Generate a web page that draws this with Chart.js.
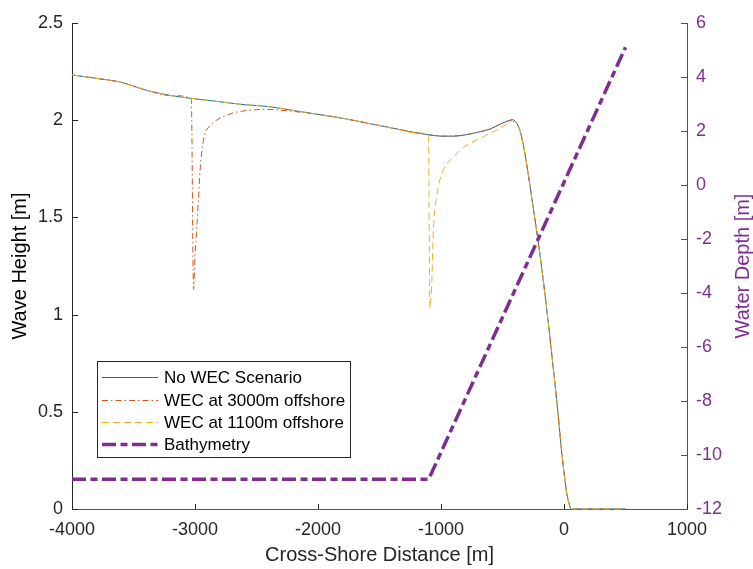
<!DOCTYPE html>
<html>
<head>
<meta charset="utf-8">
<script src="https://cdn.jsdelivr.net/npm/chart.js@4/dist/chart.umd.min.js"></script>
<style>
  html, body { margin: 0; padding: 0; background: #fff; }
  canvas { display: block; }
</style>
</head>
<body>
<canvas id="c" width="753" height="569"></canvas>
<script>
// ---- Data ----
const xTickLabels = [-4000, -3000, -2000, -1000, 0, 1000];
const heightTickLabels = [0, 0.5, 1, 1.5, 2, 2.5];
const depthTickLabels = [-12, -10, -8, -6, -4, -2, 0, 2, 4, 6];

const noWecX = [-4000,-3800,-3600,-3400,-3200,-3000,-2800,-2600,-2400,-2200,-2000,-1800,-1600,-1400,-1200,-1100,-1000,-900,-800,-700,-600,-500,-450,-420,-390,-360,-330,-300,-250,-200,-150,-100,-50,-20,0,20,40,60,500];
const noWecH = [2.233,2.215,2.195,2.155,2.127,2.11,2.095,2.08,2.07,2.05,2.03,2.01,1.985,1.96,1.935,1.925,1.918,1.918,1.925,1.938,1.955,1.985,1.998,2.003,1.99,1.95,1.87,1.76,1.55,1.33,1.08,0.80,0.50,0.30,0.19,0.09,0.03,0,0];

const wec3000X = [-4000,-3800,-3600,-3400,-3200,-3030,-3012,-3000,-2986,-2970,-2959,-2940,-2919,-2880,-2824,-2700,-2580,-2400,-2200,-2000,-1800,-1600,-1400,-1200,-1100,-1000,-900,-800,-700,-600,-500,-450,-420,-390,-360,-330,-300,-250,-200,-150,-100,-50,-20,0,20,40,60,500];
const wec3000H = [2.233,2.215,2.195,2.155,2.127,2.112,1.13,1.30,1.44,1.62,1.74,1.86,1.93,1.97,2.0,2.035,2.05,2.055,2.045,2.03,2.01,1.985,1.96,1.935,1.925,1.918,1.918,1.925,1.938,1.955,1.985,1.996,2.0,1.988,1.95,1.87,1.76,1.55,1.33,1.08,0.80,0.50,0.30,0.19,0.09,0.03,0,0];

const wec1100X = [-4000,-3800,-3600,-3400,-3200,-3000,-2800,-2600,-2400,-2200,-2000,-1800,-1600,-1400,-1200,-1102,-1090,-1076,-1063,-1035,-981,-900,-846,-750,-656,-560,-480,-430,-400,-390,-360,-330,-300,-250,-200,-150,-100,-50,-20,0,20,40,60,500];
const wec1100H = [2.233,2.215,2.195,2.155,2.127,2.11,2.095,2.08,2.07,2.05,2.03,2.01,1.985,1.96,1.935,1.925,1.034,1.145,1.42,1.607,1.744,1.81,1.847,1.885,1.915,1.945,1.975,1.995,1.992,1.988,1.95,1.87,1.76,1.55,1.33,1.08,0.80,0.50,0.30,0.19,0.09,0.03,0,0];

const bathyX = [-4000, -1100, 500];
const bathyDepth = [-10.9, -10.9, 5.1];

const seriesLabels = ['No WEC Scenario', 'WEC at 3000m offshore', 'WEC at 1100m offshore', 'Bathymetry'];
const rightTitle = 'Water Depth [m]';

// ---- Styles ----
const FONT = 'Liberation Sans, Arial, Helvetica, sans-serif';
const AXIS = '#262626';
const PURPLE = '#7E2F8E';
const toPts = (xs, ys) => xs.map((x, i) => ({x: x, y: ys[i]}));

const datasets = [
  { label: seriesLabels[0], data: toPts(noWecX, noWecH), yAxisID: 'y',
    borderColor: '#0072BD', borderWidth: 1, pointRadius: 0, cubicInterpolationMode: 'monotone', order: 3, clip: false },
  { label: seriesLabels[1], data: toPts(wec3000X, wec3000H), yAxisID: 'y',
    borderColor: '#D95319', borderWidth: 1, borderDash: [6, 3, 1.5, 3], pointRadius: 0, cubicInterpolationMode: 'monotone', order: 2, clip: false },
  { label: seriesLabels[2], data: toPts(wec1100X, wec1100H), yAxisID: 'y',
    borderColor: '#EDB120', borderWidth: 1, borderDash: [7, 4], pointRadius: 0, cubicInterpolationMode: 'monotone', order: 1, clip: false },
  { label: seriesLabels[3], data: toPts(bathyX, bathyDepth), yAxisID: 'y2',
    borderColor: PURPLE, borderWidth: 3.5, borderDash: [14, 4.5, 7, 4.5], pointRadius: 0, tension: 0, order: 0 }
];

const innerTicks = {
  id: 'innerTicks',
  afterDraw(chart) {
    const {ctx, chartArea: a, scales} = chart;
    ctx.save();
    ctx.lineWidth = 1;
    ctx.setLineDash([]);
    ctx.strokeStyle = AXIS;
    xTickLabels.forEach(v => {
      const px = Math.round(scales.x.getPixelForValue(v)) + 0.5;
      ctx.beginPath(); ctx.moveTo(px, a.bottom); ctx.lineTo(px, a.bottom - 5); ctx.stroke();
    });
    heightTickLabels.forEach(v => {
      const py = Math.round(scales.y.getPixelForValue(v)) + 0.5;
      ctx.beginPath(); ctx.moveTo(a.left, py); ctx.lineTo(a.left + 6, py); ctx.stroke();
    });
    ctx.strokeStyle = PURPLE;
    depthTickLabels.forEach(v => {
      const py = Math.round(scales.y2.getPixelForValue(v)) + 0.5;
      ctx.beginPath(); ctx.moveTo(a.right, py); ctx.lineTo(a.right - 6, py); ctx.stroke();
    });
    // right axis title, reading bottom-to-top
    ctx.translate(743, (a.top + a.bottom) / 2);
    ctx.rotate(-Math.PI / 2);
    ctx.fillStyle = PURPLE;
    ctx.font = '20px ' + FONT;
    ctx.textAlign = 'center';
    ctx.textBaseline = 'middle';
    ctx.fillText(rightTitle, 0, 0);
    ctx.restore();
  }
};

const boxLegend = {
  id: 'boxLegend',
  afterDraw(chart) {
    const ctx = chart.ctx;
    const L = 97, T = 361, W = 253, H = 96;
    ctx.save();
    ctx.fillStyle = '#fff';
    ctx.fillRect(L, T, W, H);
    ctx.strokeStyle = AXIS; ctx.lineWidth = 1; ctx.setLineDash([]);
    ctx.strokeRect(L + 0.5, T + 0.5, W, H);
    const rowsY = [377, 400, 422, 444];
    chart.data.datasets.forEach((ds, i) => {
      const y = rowsY[i] + 0.5;
      ctx.strokeStyle = ds.borderColor;
      ctx.lineWidth = ds.borderWidth;
      ctx.setLineDash(ds.borderDash || []);
      ctx.beginPath(); ctx.moveTo(102, y); ctx.lineTo(158, y); ctx.stroke();
      ctx.setLineDash([]);
      ctx.fillStyle = '#000';
      ctx.font = '17px ' + FONT;
      ctx.textBaseline = 'middle';
      ctx.textAlign = 'left';
      ctx.fillText(ds.label, 164, rowsY[i] + 1);
    });
    ctx.restore();
  }
};

new Chart(document.getElementById('c'), {
  type: 'line',
  data: { datasets: datasets },
  plugins: [innerTicks, boxLegend],
  options: {
    responsive: false,
    animation: false,
    devicePixelRatio: 1,
    layout: { padding: { top: 23, left: 0, right: 0, bottom: 0 } },
    plugins: { legend: { display: false }, tooltip: { enabled: false } },
    scales: {
      x: {
        type: 'linear', position: 'bottom', min: -4000, max: 1000,
        afterBuildTicks(s) { s.ticks = xTickLabels.map(v => ({value: v})); },
        ticks: { callback: v => String(v), color: AXIS, font: {family: FONT, size: 18}, padding: 10, maxRotation: 0, autoSkip: false },
        grid: { display: false, drawTicks: false },
        border: { display: true, color: '#555' },
        title: { display: true, text: 'Cross-Shore Distance [m]', color: AXIS, font: {family: FONT, size: 20}, padding: {top: 0, bottom: 2} },
        afterFit(s) { s.height = 60; }
      },
      y: {
        type: 'linear', position: 'left', min: 0, max: 2.5,
        afterBuildTicks(s) { s.ticks = heightTickLabels.map(v => ({value: v})); },
        ticks: { callback: v => String(v), color: AXIS, font: {family: FONT, size: 18}, padding: 9, autoSkip: false },
        grid: { display: false, drawTicks: false },
        border: { display: true, color: AXIS },
        title: { display: true, text: 'Wave Height [m]', color: '#000', font: {family: FONT, size: 20}, padding: {top: 8, bottom: 0} },
        afterFit(s) { s.width = 72; }
      },
      y2: {
        type: 'linear', position: 'right', min: -12, max: 6,
        afterBuildTicks(s) { s.ticks = depthTickLabels.map(v => ({value: v})); },
        ticks: { callback: v => String(v), color: PURPLE, font: {family: FONT, size: 18}, padding: 9, autoSkip: false },
        grid: { display: false, drawTicks: false },
        border: { display: true, color: PURPLE },
        title: { display: false },
        afterFit(s) { s.width = 66; }
      }
    }
  }
});
</script>
</body>
</html>
